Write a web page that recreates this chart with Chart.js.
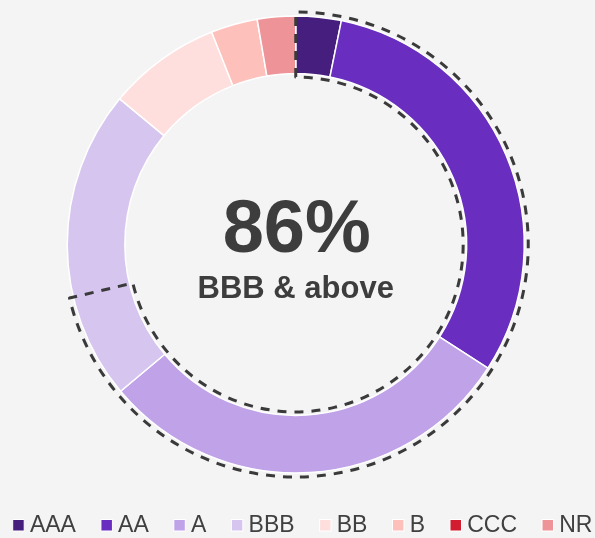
<!DOCTYPE html>
<html><head><meta charset="utf-8">
<script src="https://cdn.jsdelivr.net/npm/chart.js@4.4.1/dist/chart.umd.min.js"></script>
<style>html,body{margin:0;padding:0;background:#f4f4f4;} canvas{display:block;}</style>
</head><body>
<canvas id="c" width="595" height="538"></canvas>
<script>
const categories = ['AAA', 'AA', 'A', 'BBB', 'BB', 'B', 'CCC', 'NR'];
const shares = [3.2, 30.9, 29.8, 22.1, 8.0, 3.3, 0, 2.7];
const colors = ['#461e7d', '#692ebf', '#c0a2e9', '#d5c5ef', '#fedfde', '#fec0bb', '#d11d2f', '#ee9499'];
const highlightShare = 71.3;
const centerValue = '86%';
const centerLabel = 'BBB & above';

const FONT = '"Liberation Sans", Arial, sans-serif';
const TEXT = '#3d3d3d';

const dashedOutline = {
  id: 'dashedOutline',
  afterDatasetsDraw(chart) {
    const arc = chart.getDatasetMeta(0).data[0];
    if (!arc) return;
    const { x, y, outerRadius, innerRadius } = arc.getProps(['x', 'y', 'outerRadius', 'innerRadius'], true);
    const ro = outerRadius + 4, ri = innerRadius - 3.5;
    const a0 = -Math.PI / 2, a1 = a0 + 2 * Math.PI * highlightShare / 100;
    const ctx = chart.ctx;
    ctx.save();
    ctx.setLineDash([9, 8]);
    ctx.lineWidth = 3;
    ctx.strokeStyle = '#3a3a3a';
    ctx.lineJoin = 'round';
    ctx.beginPath();
    ctx.moveTo(x + ri * Math.cos(a0), y + ri * Math.sin(a0));
    ctx.lineTo(x + ro * Math.cos(a0), y + ro * Math.sin(a0));
    ctx.arc(x, y, ro, a0, a1);
    ctx.lineTo(x + ri * Math.cos(a1), y + ri * Math.sin(a1));
    ctx.arc(x, y, ri, a1, a0, true);
    ctx.closePath();
    ctx.stroke();
    ctx.restore();
  }
};

const centerText = {
  id: 'centerText',
  afterDraw(chart) {
    const arc = chart.getDatasetMeta(0).data[0];
    if (!arc) return;
    const { x, y } = arc.getProps(['x', 'y'], true);
    const ctx = chart.ctx;
    ctx.save();
    ctx.fillStyle = TEXT;
    ctx.textAlign = 'center';
    ctx.textBaseline = 'alphabetic';
    ctx.font = 'bold 74px ' + FONT;
    ctx.fillText(centerValue, x + 1, y + 7.2);
    ctx.font = 'bold 31px ' + FONT;
    ctx.fillText(centerLabel, x, y + 53.8);
    ctx.restore();
  }
};

const bottomLegend = {
  id: 'bottomLegend',
  afterDraw(chart) {
    const ctx = chart.ctx;
    const labels = chart.data.labels;
    const bg = chart.data.datasets[0].backgroundColor;
    ctx.save();
    ctx.font = '23px ' + FONT;
    ctx.textBaseline = 'alphabetic';
    ctx.textAlign = 'left';
    let xPos = 12.7;
    const baseline = 532.3;
    const box = 11.5;
    labels.forEach((lab, i) => {
      ctx.fillStyle = bg[i];
      ctx.fillRect(xPos, 519.5, box, box);
      ctx.strokeStyle = '#ffffff';
      ctx.lineWidth = 1;
      ctx.strokeRect(xPos, 519.5, box, box);
      ctx.fillStyle = '#404040';
      const tx = xPos + 17.2;
      ctx.fillText(lab, tx, baseline);
      xPos = tx + ctx.measureText(lab).width + 25;
    });
    ctx.restore();
  }
};

new Chart(document.getElementById('c'), {
  type: 'doughnut',
  data: {
    labels: categories,
    datasets: [{
      data: shares,
      backgroundColor: colors,
      borderColor: '#ffffff',
      borderWidth: 1.5,
      hoverOffset: 0,
      offset: 0
    }]
  },
  options: {
    responsive: false,
    animation: false,
    devicePixelRatio: 1,
    events: [],
    cutout: '74.8%',
    layout: { padding: { top: 15.25, bottom: 64.25, left: 0, right: 3.5 } },
    plugins: {
      legend: { display: false },
      tooltip: { enabled: false }
    }
  },
  plugins: [dashedOutline, centerText, bottomLegend]
});
</script>
</body></html>
